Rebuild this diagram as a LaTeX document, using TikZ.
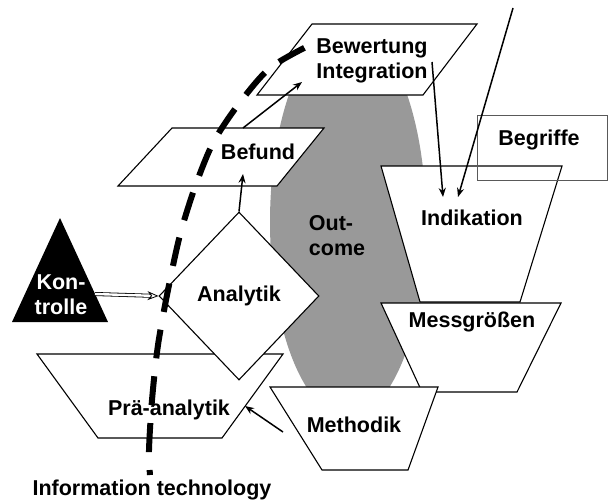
\documentclass[tikz,border=0pt]{standalone}
\usepackage{fontspec}
\setmainfont{Liberation Sans}
\usetikzlibrary{arrows.meta,shapes.geometric}
\begin{document}
\begin{tikzpicture}[x=1pt,y=-1pt,
	flaeche/.style={fill=white,draw=black,line width=1.1pt},
	schrift/.style={font=\fontsize{21.5}{25}\selectfont\bfseries,align=center,inner sep=0pt},
	pfeil/.style={line width=1.5pt,-{Stealth[length=9pt,width=7pt]}}]
		\useasboundingbox (0,0) rectangle (609,503);

		% Outcome
		\fill[black!40] (348,222) ellipse [x radius=78, y radius=195];

		% Flaechen
		\draw[flaeche] (257,95) -- (423,95) -- (477,24) -- (312,24) -- cycle;
		\draw[flaeche] (118,186) -- (277,186) -- (324,128) -- (172,128) -- cycle;
		\draw[flaeche] (381,166) -- (562,166) -- (520,302) -- (420,302) -- cycle;
		\draw[black!65,line width=0.8pt] (477,115) rectangle (607,180);
		\draw[flaeche] (381,303) -- (561,303) -- (517,392) -- (422,392) -- cycle;
		\draw[flaeche] (37,354) -- (283,354) -- (222,438) -- (98,438) -- cycle;
		\node[flaeche,diamond,minimum width=160pt,minimum height=168pt,inner sep=0pt,
			font=\fontsize{21.5}{25}\selectfont\bfseries] (analytik) at (239,296) {Analytik};
		\draw[flaeche] (270,387) -- (438,387) -- (408,470) -- (322,470) -- cycle;
		\fill[black] (60,218) -- (108,322) -- (12,322) -- cycle;

		% Texte
		\node[schrift] (bewertung) at (372,61) {Bewertung\\Integration};
		\node[schrift] (befund) at (258,152) {Befund};
		\node[schrift,align=left] (outcome) at (337,236) {Out-\\come};
		\node[schrift] (indikation) at (472,218) {Indikation};
		\node[schrift] (begriffe) at (539,140) {Begriffe};
		\node[schrift] (messgroessen) at (472,322) {Messgrößen};
		\node[schrift] (methodik) at (354,425) {Methodik};
		\node[schrift] (praeanalytik) at (169,410) {Prä-analytik};
		\node[schrift,text=white] (kontrolle) at (61,295) {Kon-\\trolle};
		\node[schrift] (infotech) at (152,490) {Information technology};

		% Pfeile
		\coordinate (befundunten) at (243,174);
		\coordinate (befundoben) at (243,128);
		\coordinate (bewertungunten) at (302,82);
		\coordinate (integration) at (432,62);
		\coordinate (indikationlinks) at (443,197);
		\coordinate (oben) at (513,8);
		\coordinate (indikationrechts) at (458,197);
		\coordinate (methodiklinks) at (283,432);
		\coordinate (praerechts) at (245,406);
		\coordinate (kontrollerechts) at (95,294);

		\draw[pfeil] (analytik.north) -- (befundunten);
		\draw[pfeil] (befundoben) -- (bewertungunten);
		\draw[pfeil] (integration) -- (indikationlinks);
		\draw[pfeil] (oben) -- (indikationrechts);
		\draw[pfeil] (methodiklinks) -- (praerechts);
		\draw[double=white,double distance=2.4pt,line width=0.8pt,-{Stealth[open,length=11pt,width=9pt]}] (kontrollerechts) -- (analytik.west);

		% Information technology
		\draw[line width=6pt,dash pattern=on 29pt off 18pt,dash phase=24pt] plot[smooth] coordinates {(150,475) (149,450) (152,400) (158,345) (168,290) (180,235) (195,187) (213,143) (238,105) (270,68) (312,44)};
	\end{tikzpicture}
\end{document}
